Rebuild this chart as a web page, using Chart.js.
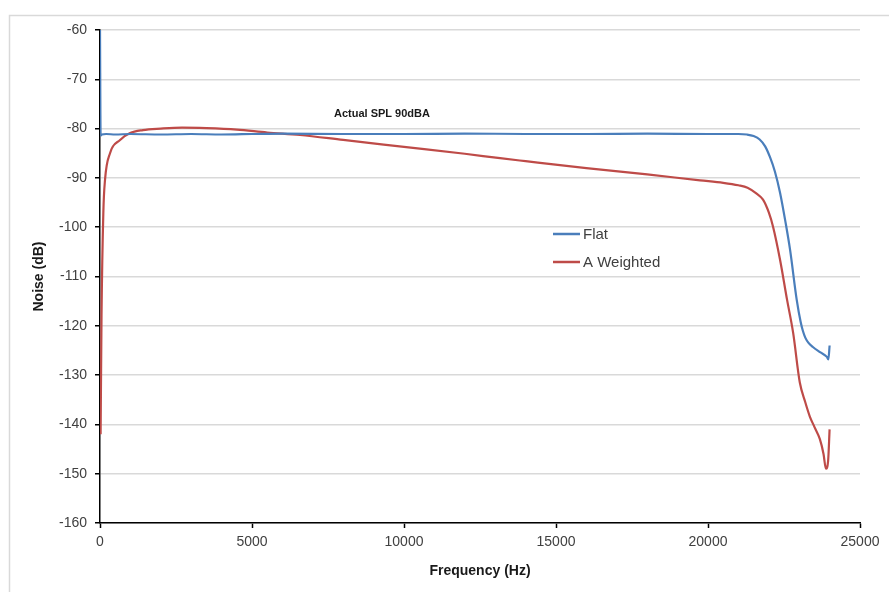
<!DOCTYPE html>
<html>
<head>
<meta charset="utf-8">
<script src="https://cdn.jsdelivr.net/npm/chart.js@4.4.0/dist/chart.umd.min.js"></script>
<style>
  html, body { margin: 0; padding: 0; background: #fff; }
  #wrap { width: 889px; height: 592px; }
</style>
</head>
<body>
<div id="wrap"><canvas id="noiseChart"></canvas></div>
<script>
// Flat (unweighted) noise spectrum
const flatFreq = [0, 20, 60, 200, 500, 1000, 2000, 3000, 4000, 5000, 6000, 8000, 10000, 12000, 14000, 16000, 18000, 20000, 21000, 21280, 21500, 21700, 21880, 22040, 22200, 22370, 22550, 22700, 22920, 23050, 23120, 23200, 23300, 23450, 23700, 23910, 23960, 24000];
const flatDb   = [-60, -81.4, -81.2, -81.1, -81.2, -81.1, -81.2, -81.1, -81.2, -81.1, -81.0, -81.1, -81.1, -81.0, -81.1, -81.1, -81.0, -81.1, -81.1, -81.2, -81.5, -82.2, -83.6, -85.8, -88.7, -93.0, -99.0, -104.6, -114.8, -119.3, -121.0, -122.4, -123.4, -124.3, -125.4, -126.3, -126.8, -124.0];

// A-weighted noise spectrum
const aWtdFreq = [20, 50, 110, 165, 330, 660, 990, 1410, 2000, 2700, 3500, 4500, 5500, 6580, 8000, 10000, 12000, 13160, 14000, 16000, 18000, 19740, 20500, 21000, 21300, 21600, 21810, 22000, 22140, 22370, 22600, 22800, 23020, 23200, 23350, 23500, 23680, 23800, 23880, 23950, 24000];
const aWtdDb   = [-142, -118, -97, -90.4, -85.0, -82.3, -80.9, -80.3, -80.0, -79.8, -79.9, -80.2, -80.8, -81.3, -82.3, -83.7, -85.1, -86.0, -86.6, -88.0, -89.3, -90.5, -91.0, -91.5, -92.0, -93.2, -94.4, -97.0, -99.9, -106.6, -114.7, -121.4, -131.5, -135.5, -138.4, -140.5, -143.0, -146.0, -149.0, -147.5, -141.0];

const seriesNames = ['Flat', 'A Weighted'];
const seriesColors = ['#4a7ebb', '#be4b48'];
const yTicks = { min: -160, max: -60, step: 10 };
const xTicks = { min: 0, max: 25000, step: 5000 };
const noteText = 'Actual SPL 90dBA';

const toPoints = (xs, ys) => xs.map((x, i) => ({ x: x, y: ys[i] }));

const framePlugin = {
  id: 'frame',
  beforeDraw(chart) {
    const ctx = chart.ctx;
    ctx.save();
    ctx.fillStyle = '#fff';
    ctx.fillRect(0, 0, chart.width, chart.height);
    ctx.strokeStyle = '#d9d9d9';
    ctx.lineWidth = 1.5;
    ctx.beginPath();
    ctx.moveTo(9.5, chart.height + 2);
    ctx.lineTo(9.5, 15.5);
    ctx.lineTo(chart.width + 2, 15.5);
    ctx.stroke();
    ctx.restore();
  }
};

const legendPlugin = {
  id: 'insideLegend',
  afterDatasetsDraw(chart) {
    const ctx = chart.ctx;
    ctx.save();
    // note above the curves
    ctx.font = 'bold 11px "Liberation Sans", Arial, sans-serif';
    ctx.fillStyle = '#1a1a1a';
    ctx.textBaseline = 'middle';
    ctx.fillText(noteText, 334, 114);
    // legend
    ctx.font = '15px "Liberation Sans", Arial, sans-serif';
    seriesNames.forEach((name, i) => {
      const y = 234 + i * 28;
      ctx.strokeStyle = seriesColors[i];
      ctx.lineWidth = 2.5;
      ctx.beginPath();
      ctx.moveTo(553, y);
      ctx.lineTo(580, y);
      ctx.stroke();
      ctx.fillStyle = '#404040';
      ctx.fillText(name, 583, y + 1);
    });
    ctx.restore();
  }
};

new Chart(document.getElementById('noiseChart'), {
  type: 'line',
  data: {
    datasets: [
      {
        label: seriesNames[0],
        data: toPoints(flatFreq, flatDb),
        borderColor: seriesColors[0],
        backgroundColor: seriesColors[0],
        borderWidth: 2.2,
        pointRadius: 0,
        cubicInterpolationMode: 'monotone'
      },
      {
        label: seriesNames[1],
        data: toPoints(aWtdFreq, aWtdDb),
        borderColor: seriesColors[1],
        backgroundColor: seriesColors[1],
        borderWidth: 2.2,
        pointRadius: 0,
        cubicInterpolationMode: 'monotone'
      }
    ]
  },
  options: {
    responsive: true,
    maintainAspectRatio: false,
    animation: false,
    layout: { padding: { left: 0, top: 30, right: 29, bottom: 0 } },
    plugins: {
      legend: { display: false },
      tooltip: { enabled: false }
    },
    scales: {
      x: {
        type: 'linear',
        min: xTicks.min,
        max: xTicks.max,
        afterFit(scale) { scale.height = 69; },
        ticks: {
          stepSize: xTicks.step,
          color: '#404040',
          padding: 6,
          maxRotation: 0,
          callback: (v) => String(v),
          font: { family: '"Liberation Sans", Arial, sans-serif', size: 14 }
        },
        grid: { drawOnChartArea: false, drawTicks: true, tickLength: 5, tickColor: '#000', tickWidth: 1.5 },
        border: { color: '#000', width: 1.5 },
        title: {
          display: true,
          text: 'Frequency (Hz)',
          color: '#1a1a1a',
          padding: { top: 0, bottom: 12 },
          font: { family: '"Liberation Sans", Arial, sans-serif', size: 14, weight: 'bold' }
        }
      },
      y: {
        min: yTicks.min,
        max: yTicks.max,
        afterFit(scale) { scale.width = 100; },
        ticks: {
          stepSize: yTicks.step,
          color: '#404040',
          padding: 8,
          font: { family: '"Liberation Sans", Arial, sans-serif', size: 14 }
        },
        grid: { color: '#d9d9d9', lineWidth: 1.5, drawTicks: true, tickLength: 5, tickColor: '#000', tickWidth: 1.5 },
        border: { color: '#000', width: 1.5 },
        title: {
          display: true,
          text: 'Noise (dB)',
          color: '#1a1a1a',
          padding: { top: 31, bottom: 0 },
          font: { family: '"Liberation Sans", Arial, sans-serif', size: 14, weight: 'bold' }
        }
      }
    }
  },
  plugins: [framePlugin, legendPlugin]
});
</script>
</body>
</html>
